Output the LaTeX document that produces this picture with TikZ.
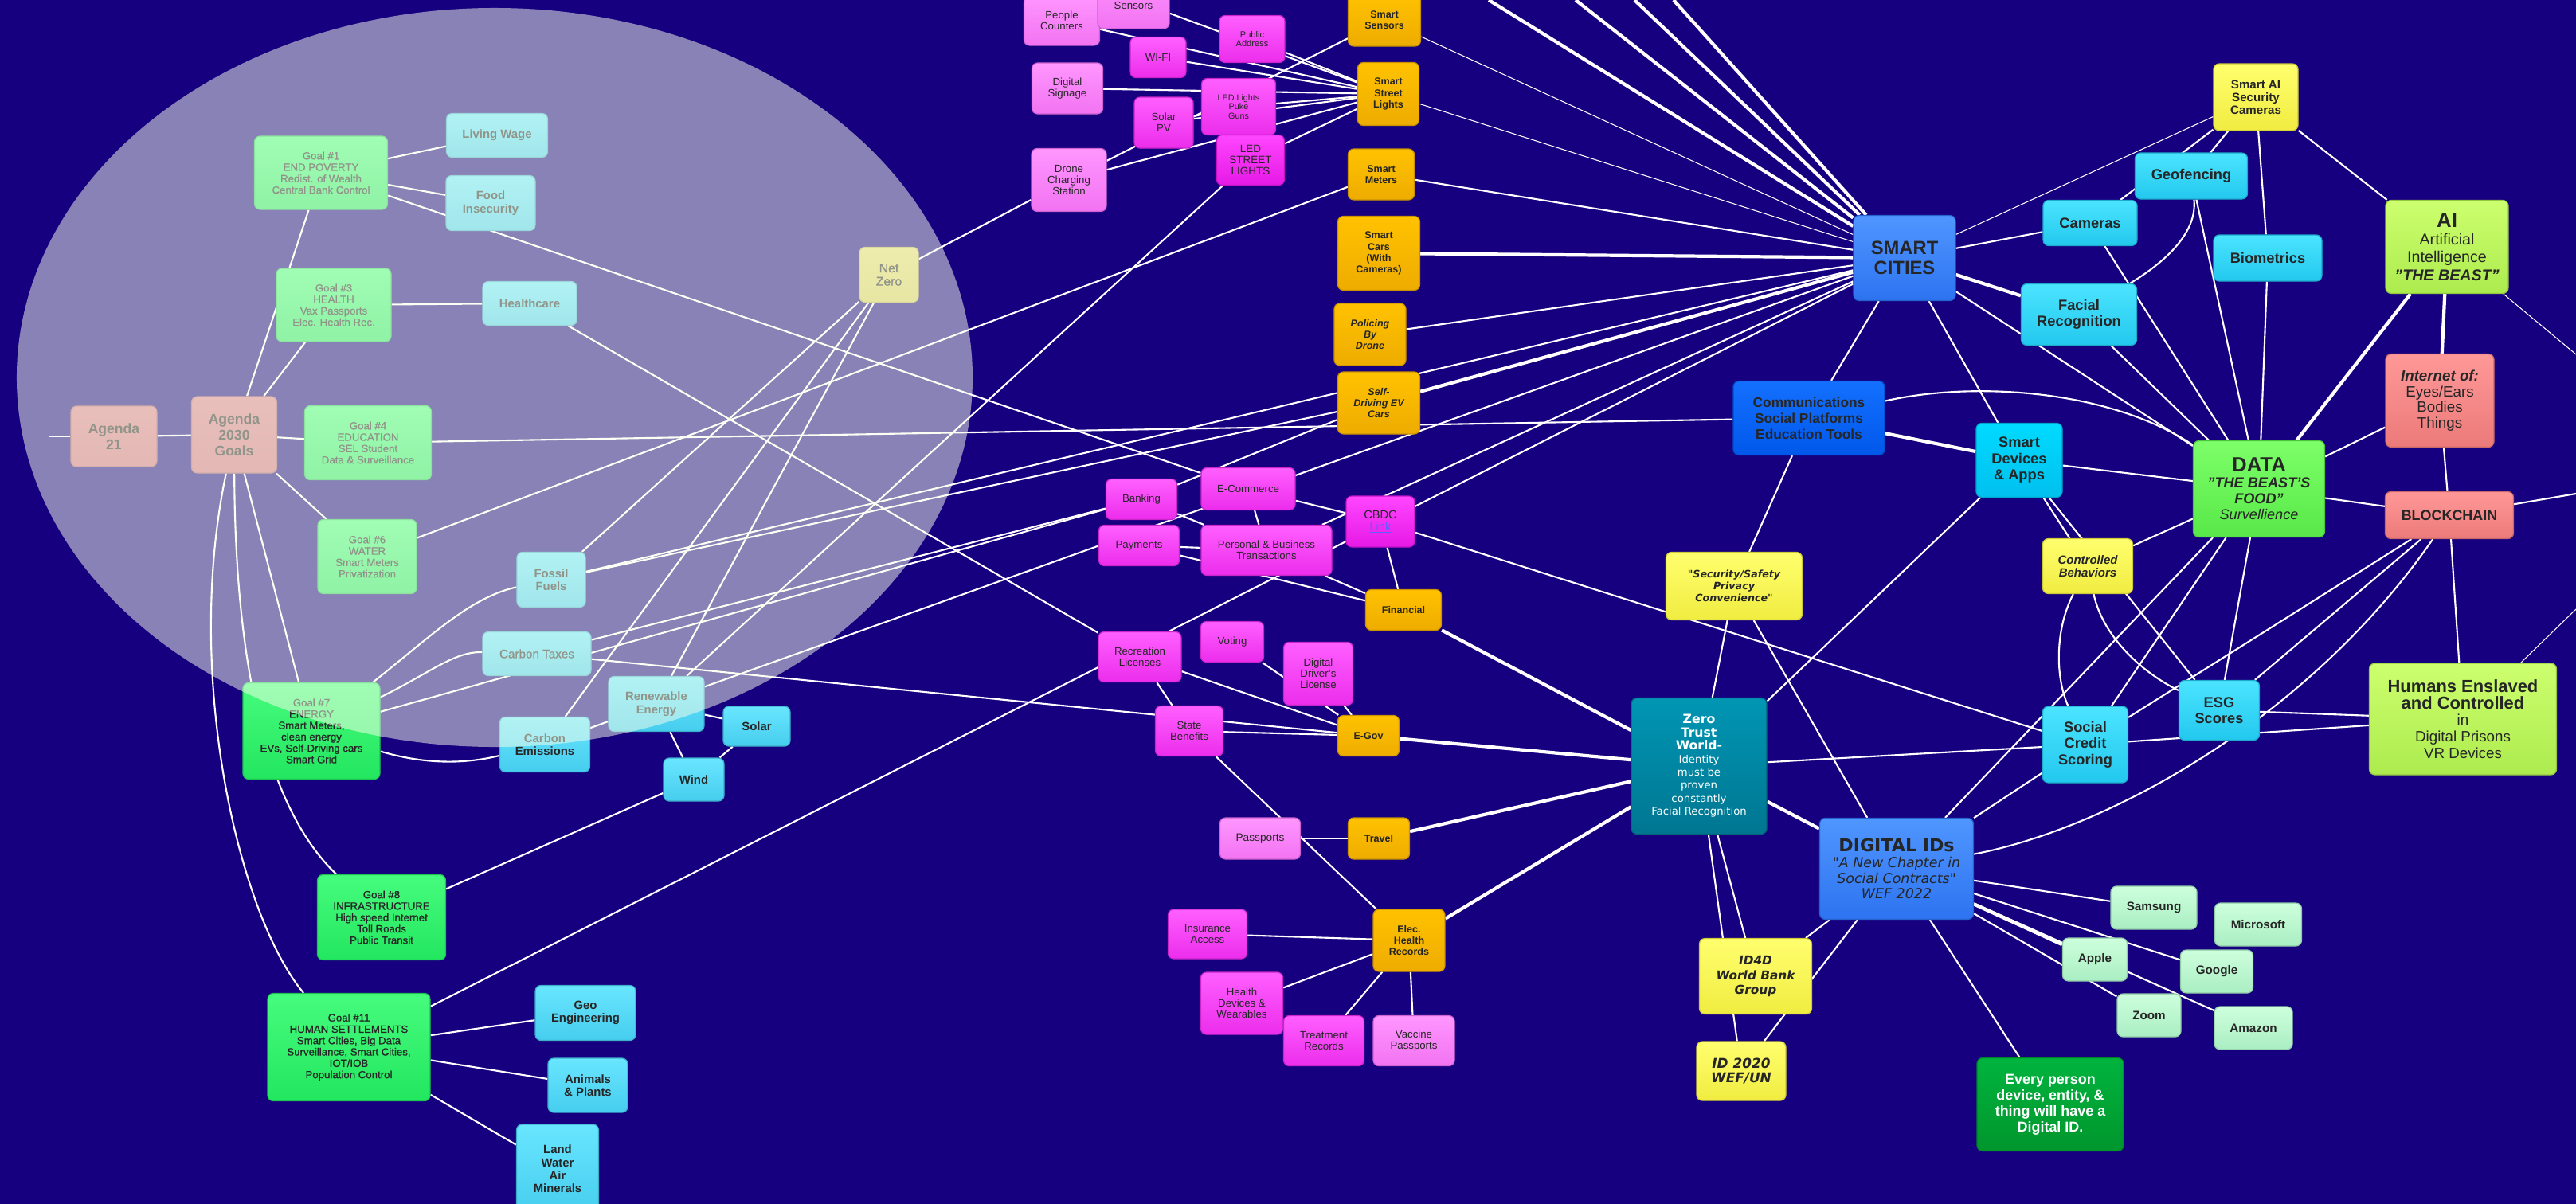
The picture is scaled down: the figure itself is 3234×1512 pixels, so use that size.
\documentclass[tikz,border=0pt]{standalone}
\usepackage{fontspec}
\setmainfont{Liberation Sans}
\newfontfamily\dvfont{DejaVu Sans}
\newfontfamily\medfont[FakeBold=0.8]{Liberation Sans}
\newcommand\fz[2]{\fontsize{#1}{#2}\selectfont}

\definecolor{bgblue}{RGB}{23,0,128}
\definecolor{magLt}{RGB}{255,150,255}\definecolor{magLb}{RGB}{242,115,242}
\definecolor{magMt}{RGB}{255,95,255}\definecolor{magMb}{RGB}{236,45,236}
\definecolor{magBt}{RGB}{255,70,255}\definecolor{magBb}{RGB}{230,25,230}
\definecolor{orgt}{RGB}{255,194,0}\definecolor{orgb}{RGB}{238,172,0}
\definecolor{grnt}{RGB}{70,252,125}\definecolor{grnb}{RGB}{35,230,95}
\definecolor{pnkt}{RGB}{218,125,140}\definecolor{pnkb}{RGB}{205,110,125}
\definecolor{cyLt}{RGB}{105,230,255}\definecolor{cyLb}{RGB}{70,205,238}
\definecolor{nzt}{RGB}{228,218,110}\definecolor{nzb}{RGB}{215,205,90}
\definecolor{cyRt}{RGB}{75,228,255}\definecolor{cyRb}{RGB}{35,200,238}
\definecolor{cyDt}{RGB}{0,218,255}\definecolor{cyDb}{RGB}{0,192,238}
\definecolor{yelt}{RGB}{255,255,110}\definecolor{yelb}{RGB}{240,236,65}
\definecolor{blSt}{RGB}{80,150,255}\definecolor{blSb}{RGB}{45,115,240}
\definecolor{blCt}{RGB}{20,112,255}\definecolor{blCb}{RGB}{0,88,235}
\definecolor{tealt}{RGB}{0,150,180}\definecolor{tealb}{RGB}{0,118,145}
\definecolor{datat}{RGB}{125,255,105}\definecolor{datab}{RGB}{88,232,72}
\definecolor{limet}{RGB}{205,255,110}\definecolor{limeb}{RGB}{172,235,78}
\definecolor{salt}{RGB}{255,152,152}\definecolor{salb}{RGB}{236,122,122}
\definecolor{dgt}{RGB}{0,180,62}\definecolor{dgb}{RGB}{0,150,45}
\definecolor{mintt}{RGB}{205,255,220}\definecolor{mintb}{RGB}{170,238,195}
\definecolor{ellfill}{RGB}{248,255,234}
\definecolor{linkblue}{RGB}{95,95,255}

\pgfdeclarelayer{bg}
\pgfdeclarelayer{fg}
\pgfsetlayers{bg,main,fg}

\tikzset{
	bx/.style={rounded corners=6pt, align=center, inner sep=1pt, line width=1pt, text=black!85},
	sz/.style 2 args={minimum width=#1*0.03cm, minimum height=#2*0.03cm},
	fillc/.style 2 args={top color=#1, bottom color=#2, draw=#2!85!black},
	magl/.style={bx, fillc={magLt}{magLb}, font=\fz{11.3}{12}},
	magm/.style={bx, fillc={magMt}{magMb}, font=\fz{11.3}{12}},
	magb/.style={bx, fillc={magBt}{magBb}, font=\fz{11.3}{12}},
	orng/.style={bx, fillc={orgt}{orgb}, font=\fz{10.7}{12}\bfseries},
	goal/.style={bx, fillc={grnt}{grnb}, font=\medfont\fz{11.3}{12.2}},
	pnk/.style={bx, fillc={pnkt}{pnkb}, font=\fz{15}{17}\bfseries},
	cyl/.style={bx, fillc={cyLt}{cyLb}, font=\fz{12.7}{14}\bfseries},
	nz/.style={bx, fillc={nzt}{nzb}, font=\medfont\fz{13.5}{14.2}},
	cyr/.style={bx, fillc={cyRt}{cyRb}, font=\fz{15.6}{17.5}\bfseries},
	yel/.style={bx, fillc={yelt}{yelb}},
	mint/.style={bx, fillc={mintt}{mintb}, font=\fz{13}{15}\bfseries},
	ln/.style={draw=white, line width=1.8pt},
	thk/.style={draw=white, line width=3.6pt},
	thn/.style={draw=white, line width=0.9pt},
}

\begin{document}
\begin{tikzpicture}[x=0.03cm,y=-0.03cm]
	%%%%% START %%%%%
	\useasboundingbox (0,0) rectangle (3234,1512);
	
	% agenda 2030 side
	\node[pnk,sz={108}{76}] (a21) at (143,548) {Agenda\\21};
	\node[pnk,sz={107}{96}] (a2030) at (294,546) {Agenda\\2030\\Goals};
	\node[goal,sz={167}{92}] (g1) at (403,217) {Goal \#1\\END POVERTY\\Redist. of Wealth\\Central Bank Control};
	\node[goal,sz={144}{92}] (g3) at (419,383) {Goal \#3\\HEALTH\\Vax Passports\\Elec. Health Rec.};
	\node[goal,sz={159}{93}] (g4) at (462,556) {Goal \#4\\EDUCATION\\SEL Student\\Data \& Surveillance};
	\node[goal,sz={124}{93}] (g6) at (461,699) {Goal \#6\\WATER\\Smart Meters\\Privatization};
	\node[goal,sz={172}{121}] (g7) at (391,918) {Goal \#7\\ENERGY\\Smart Meters,\\clean energy\\EVs, Self-Driving cars\\Smart Grid};
	\node[goal,sz={161}{107}] (g8) at (479,1152) {Goal \#8\\INFRASTRUCTURE\\High speed Internet\\Toll Roads\\Public Transit};
	\node[goal,sz={204}{135}] (g11) at (438,1315) {Goal \#11\\HUMAN SETTLEMENTS\\Smart Cities, Big Data\\Surveillance, Smart Cities,\\IOT/IOB\\Population Control};
	
	\node[cyl,sz={127}{55}] (wage) at (624,170) {Living Wage};
	\node[cyl,sz={112}{69}] (food) at (616,255) {Food\\Insecurity};
	\node[cyl,sz={118}{55}] (hcare) at (665,381) {Healthcare};
	\node[nz,sz={74}{69}] (netzero) at (1116,345) {Net\\Zero};
	\node[cyl,sz={86}{69}] (fossil) at (692,728) {Fossil\\Fuels};
	\node[cyl,sz={136}{55},font=\medfont\fz{13}{14}] (ctax) at (674,821) {Carbon Taxes};
	\node[cyl,sz={113}{69}] (cemis) at (684,935) {Carbon\\Emissions};
	\node[cyl,sz={120}{69}] (renew) at (824,884) {Renewable\\Energy};
	\node[cyl,sz={84}{50}] (solar) at (950,912) {Solar};
	\node[cyl,sz={76}{54}] (wind) at (871,979) {Wind};
	\node[cyl,sz={126}{69}] (geo) at (735,1272) {Geo\\Engineering};
	\node[cyl,sz={100}{68}] (animals) at (738,1363) {Animals\\\& Plants};
	\node[cyl,sz={103}{112}] (land) at (700,1468) {Land\\Water\\Air\\Minerals};
	
	% smart city devices
	\node[magl,sz={95}{62}] (pcount) at (1333,26) {People\\Counters};
	\node[magl,sz={90}{72}] (noise) at (1423,0) {Noise\\Sensors};
	\node[magm,sz={82}{59},font=\fz{9.5}{10}] (paddr) at (1572,49) {Public\\Address};
	\node[magm,sz={70}{51}] (wifi) at (1454,72) {WI-FI};
	\node[magl,sz={89}{64}] (signage) at (1340,111) {Digital\\Signage};
	\node[magm,sz={74}{64}] (solarpv) at (1461,154) {Solar\\PV};
	\node[magm,sz={93}{71},font=\fz{9.2}{10}] (ledpuke) at (1555,134) {LED Lights\\Puke\\Guns};
	\node[magb,sz={85}{63},font=\fz{11.5}{12.2}] (ledst) at (1570,201) {LED\\STREET\\LIGHTS};
	\node[magl,sz={94}{79}] (drone) at (1342,226) {Drone\\Charging\\Station};
	
	\node[orng,sz={91}{66}] (ssens) at (1738,25) {Smart\\Sensors};
	\node[orng,sz={77}{79}] (slights) at (1743,118) {Smart\\Street\\Lights};
	\node[orng,sz={83}{64}] (smeters) at (1734,219) {Smart\\Meters};
	\node[orng,sz={103}{93}] (scars) at (1731,318) {Smart\\Cars\\(With\\Cameras)};
	\node[orng,sz={90}{78},font=\fz{10.7}{12}\bfseries\itshape] (police) at (1720,420) {Policing\\By\\Drone};
	\node[orng,sz={103}{78},font=\fz{10.7}{12}\bfseries\itshape] (selfdrive) at (1731,506) {Self-\\Driving EV\\Cars};
	
	% money, government, health
	\node[magm,sz={89}{51}] (banking) at (1433,627) {Banking};
	\node[magm,sz={118}{53}] (ecom) at (1567,614) {E-Commerce};
	\node[magb,sz={86}{64},font=\fz{12.5}{13.5}] (cbdc) at (1733,655) {CBDC\\\textcolor{linkblue}{\underline{Link}}};
	\node[magm,sz={101}{51}] (payments) at (1430,685) {Payments};
	\node[magm,sz={164}{63}] (pbt) at (1590,691) {Personal \& Business\\Transactions};
	\node[orng,sz={95}{51}] (financial) at (1762,766) {Financial};
	\node[magm,sz={79}{51}] (voting) at (1547,806) {Voting};
	\node[magm,sz={104}{63}] (recreation) at (1431,825) {Recreation\\Licenses};
	\node[magm,sz={87}{79}] (ddl) at (1655,846) {Digital\\Driver's\\License};
	\node[magm,sz={85}{63}] (benefits) at (1493,918) {State\\Benefits};
	\node[orng,sz={77}{51}] (egov) at (1718,924) {E-Gov};
	\node[magl,sz={101}{52},font=\fz{11.7}{12.5}] (passports) at (1582,1053) {Passports};
	\node[orng,sz={77}{52}] (travel) at (1731,1053) {Travel};
	\node[magm,sz={99}{62}] (insurance) at (1516,1173) {Insurance\\Access};
	\node[orng,sz={90}{78}] (ehr) at (1769,1181) {Elec.\\Health\\Records};
	\node[magm,sz={103}{78}] (wearables) at (1559,1260) {Health\\Devices \&\\Wearables};
	\node[magm,sz={101}{63}] (treatment) at (1662,1307) {Treatment\\Records};
	\node[magl,sz={102}{63}] (vaccine) at (1775,1307) {Vaccine\\Passports};
	
	% smart cities, data, ids
	\node[bx,fillc={blSt}{blSb},sz={128}{107},font=\fz{20.3}{21}\bfseries] (smartcities) at (2391,324) {SMART\\CITIES};
	\node[bx,fillc={blCt}{blCb},sz={190}{93},font=\fz{14.8}{17}\bfseries] (comms) at (2271,525) {Communications\\Social Platforms\\Education Tools};
	\node[yel,sz={106}{84},font=\fz{12.9}{13.7}\bfseries] (smartai) at (2832,122) {Smart AI\\Security\\Cameras};
	\node[cyr,sz={141}{58}] (geofence) at (2751,221) {Geofencing};
	\node[cyr,sz={118}{57}] (cameras) at (2624,280) {Cameras};
	\node[cyr,sz={136}{58}] (biometrics) at (2847,324) {Biometrics};
	\node[cyr,sz={145}{77}] (facial) at (2610,395) {Facial\\Recognition};
	\node[bx,fillc={limet}{limeb},sz={154}{117},font=\fz{16.8}{19}] (ai) at (3072,310) {{\bfseries\fz{22}{22}AI}\\Artificial\\Intelligence\\\textbf{\textit{"THE BEAST"}}};
	\node[bx,fillc={salt}{salb},sz={136}{117},font=\fz{16}{16.7}] (iot) at (3063,503) {\textbf{\textit{Internet of:}}\\Eyes/Ears\\Bodies\\Things};
	\node[bx,fillc={datat}{datab},sz={165}{121},font=\fz{15.5}{17}] (data) at (2836,614) {{\bfseries\fz{22}{22}DATA}\\\textbf{\textit{"THE BEAST'S}}\\\textbf{\textit{FOOD"}}\\\textit{Survellience}};
	\node[cyr,sz={108}{93},fillc={cyDt}{cyDb}] (devices) at (2535,578) {Smart\\Devices\\\& Apps};
	\node[bx,fillc={salt}{salb},sz={161}{59},font=\fz{15.3}{17}\bfseries] (blockchain) at (3075,647) {BLOCKCHAIN};
	\node[yel,sz={113}{69},font=\fz{12.8}{13.4}\bfseries\itshape] (controlled) at (2621,711) {Controlled\\Behaviors};
	\node[cyr,sz={101}{75}] (esg) at (2786,892) {ESG\\Scores};
	\node[cyr,sz={107}{96}] (social) at (2618,935) {Social\\Credit\\Scoring};
	\node[bx,fillc={limet}{limeb},sz={235}{140},font=\fz{16}{17.6}] (humans) at (3092,903) {\textbf{\fz{18.7}{19.5}Humans Enslaved}\\\textbf{\fz{18.7}{19.5}and Controlled}\\in\\Digital Prisons\\VR Devices};
	\node[yel,sz={171}{85},font=\dvfont\fz{10.8}{13}\bfseries\itshape] (security) at (2177,736) {"Security/Safety\\Privacy\\Convenience"};
	\node[bx,fillc={tealt}{tealb},sz={170}{171},text=white,font=\dvfont\fz{11.3}{14}] (zerotrust) at (2133,962) {\textbf{\fz{13.4}{14}Zero}\\\textbf{\fz{13.4}{14}Trust}\\\textbf{\fz{13.4}{14}World-}\\Identity\\must be\\proven\\constantly\\Facial Recognition};
	\node[bx,fillc={blSt}{blSb},sz={193}{127},font=\dvfont\fz{14.9}{17}] (digitalids) at (2381,1091) {\textbf{\fz{18.9}{20}DIGITAL IDs}\\\textit{"A New Chapter in}\\\textit{Social Contracts"}\\\textit{WEF 2022}};
	\node[yel,sz={141}{95},font=\dvfont\fz{13.1}{16}\bfseries\itshape] (id4d) at (2204,1226) {ID4D\\World Bank\\Group};
	\node[yel,sz={112}{74},font=\dvfont\fz{14.4}{16}\bfseries\itshape] (id2020) at (2186,1345) {ID 2020\\WEF/UN};
	\node[bx,fillc={dgt}{dgb},sz={184}{117},text=white,font=\fz{15.3}{17}\bfseries] (everyone) at (2574,1387) {Every person\\device, entity, \&\\thing will have a\\Digital ID.};
	\node[mint,sz={108}{54}] (samsung) at (2704,1140) {Samsung};
	\node[mint,sz={109}{54}] (microsoft) at (2835,1161) {Microsoft};
	\node[mint,sz={81}{54}] (apple) at (2630,1205) {Apple};
	\node[mint,sz={91}{54}] (google) at (2783,1220) {Google};
	\node[mint,sz={80}{54}] (zoom) at (2698,1275) {Zoom};
	\node[mint,sz={98}{54}] (amazon) at (2829,1291) {Amazon};
	
	% loose ends at the border
	\coordinate (a21w) at (61,548);
	\coordinate (top1) at (1869,0);
	\coordinate (top2) at (1978,0);
	\coordinate (top3) at (2052,0);
	\coordinate (top4) at (2101,0);
	\coordinate (aie) at (3234,445);
	\coordinate (blke) at (3234,620);
	\coordinate (hume) at (3234,765);
	
	\begin{pgfonlayer}{bg}
		\fill[bgblue] (0,0) rectangle (3234,1512);
		
		\draw[ln] (a21w) -- (a21);
		\draw[ln] (a21) -- (a2030);
		\draw[ln] (a2030) -- (g1);
		\draw[ln] (a2030) -- (g3);
		\draw[ln] (a2030) -- (g4);
		\draw[ln] (a2030) -- (g6);
		\draw[ln] (a2030) -- (g7);
		\draw[ln] (a2030) .. controls (295,820) and (330,1010) .. (g8);
		\draw[ln] (a2030) .. controls (230,850) and (300,1150) .. (g11);
		\draw[ln] (g1) -- (wage);
		\draw[ln] (g1) -- (food);
		\draw[ln] (g1) -- (ecom);
		\draw[ln] (g3) -- (hcare);
		\draw[ln] (hcare) -- (recreation);
		\draw[ln] (g4) -- (comms);
		\draw[ln] (g6) -- (smeters);
		\draw[ln] (g7) .. controls (540,800) and (590,750) .. (fossil);
		\draw[ln] (g7) .. controls (540,845) and (570,818) .. (ctax);
		\draw[ln] (g7) -- (banking);
		\draw[ln] (g7) .. controls (540,962) and (590,958) .. (cemis);
		\draw[ln] (netzero) -- (drone);
		\draw[ln] (netzero) -- (fossil);
		\draw[ln] (netzero) -- (cemis);
		\draw[ln] (netzero) -- (renew);
		\draw[ln] (fossil) -- (selfdrive);
		\draw[ln] (fossil) -- (smartcities);
		\draw[ln] (ctax) -- (banking);
		\draw[ln] (ctax) -- (egov);
		\draw[ln] (cemis) -- (renew);
		\draw[ln] (renew) -- (solar);
		\draw[ln] (renew) -- (wind);
		\draw[ln] (wind) -- (solar);
		\draw[ln] (wind) -- (g8);
		\draw[ln] (renew) -- (smartcities);
		\draw[ln] (ledst) -- (renew);
		\draw[ln] (g11) -- (geo);
		\draw[ln] (g11) -- (animals);
		\draw[ln] (g11) -- (land);
		\draw[ln] (g11) -- (smartcities);
		
		\foreach \dev in {pcount,noise,paddr,wifi,signage,solarpv,ledpuke,drone,ledst}
			\draw[ln] (\dev) -- (slights);
		\draw[ln] (solarpv) -- (ledpuke);
		\draw[ln] (drone) -- (ssens);
		\draw[thn] (ssens) -- (smartcities);
		\draw[thn] (slights) -- (smartcities);
		\draw[ln] (smeters) -- (smartcities);
		\draw[thk] (scars) -- (smartcities);
		\draw[ln] (police) -- (smartcities);
		\draw[thk] (selfdrive) -- (smartcities);
		\foreach \t in {top1,top2,top3,top4}
			\draw[thk] (\t) -- (smartcities);
		
		\draw[ln] (banking) -- (selfdrive);
		\draw[ln] (banking) -- (pbt);
		\draw[ln] (payments) -- (pbt);
		\draw[ln] (payments) -- (financial);
		\draw[ln] (ecom) -- (pbt);
		\draw[ln] (ecom) -- (cbdc);
		\draw[ln] (cbdc) -- (social);
		\draw[ln] (cbdc) -- (financial);
		\draw[ln] (pbt) -- (financial);
		\draw[ln] (pbt) -- (smartcities);
		\draw[thk] (financial) -- (zerotrust);
		\draw[ln] (voting) -- (egov);
		\draw[ln] (ddl) -- (egov);
		\draw[ln] (recreation) -- (egov);
		\draw[ln] (recreation) -- (benefits);
		\draw[ln] (benefits) -- (egov);
		\draw[ln] (benefits) -- (ehr);
		\draw[thk] (egov) -- (zerotrust);
		\draw[ln] (passports) -- (travel);
		\draw[thk] (travel) -- (zerotrust);
		\draw[thk] (ehr) -- (zerotrust);
		\foreach \rec in {insurance,wearables,treatment,vaccine}
			\draw[ln] (ehr) -- (\rec);
		
		\draw[thn] (smartcities) -- (smartai);
		\draw[ln] (smartcities) -- (cameras);
		\draw[thk] (smartcities) -- (facial);
		\draw[ln] (smartcities) -- (data);
		\draw[ln] (smartcities) -- (devices);
		\draw[ln] (smartcities) -- (comms);
		\draw[ln] (cameras) -- (smartai);
		\draw[ln] (geofence) -- (smartai);
		\draw[ln] (smartai) -- (biometrics);
		\draw[ln] (smartai) -- (ai);
		\draw[ln] (biometrics) -- (data);
		\draw[ln] (geofence) -- (data);
		\draw[ln] (cameras) -- (data);
		\draw[ln] (facial) -- (data);
		\draw[ln] (geofence) .. controls (2760,300) and (2700,340) .. (facial);
		\draw[thk] (ai) -- (data);
		\draw[thk] (ai) -- (iot);
		\draw[thn] (ai) -- (aie);
		\draw[ln] (iot) -- (data);
		\draw[ln] (iot) -- (blockchain);
		\draw[ln] (comms) .. controls (2480,478) and (2650,490) .. (data);
		\draw[thk] (comms) -- (devices);
		\draw[ln] (devices) -- (data);
		\draw[ln] (devices) -- (controlled);
		\draw[ln] (devices) -- (esg);
		\draw[ln] (data) -- (controlled);
		\draw[ln] (controlled) .. controls (2580,790) and (2580,850) .. (social);
		\draw[ln] (controlled) .. controls (2640,800) and (2690,845) .. (esg);
		\draw[ln] (data) -- (social);
		\draw[ln] (data) -- (esg);
		\draw[ln] (data) -- (blockchain);
		\draw[ln] (blockchain) -- (esg);
		\draw[ln] (blockchain) -- (social);
		\draw[ln] (digitalids) .. controls (2650,1040) and (2900,900) .. (blockchain);
		\draw[ln] (blockchain) -- (humans);
		\draw[ln] (blockchain) -- (blke);
		\draw[thn] (humans) -- (hume);
		\draw[ln] (esg) -- (humans);
		\draw[ln] (social) -- (humans);
		
		\draw[ln] (zerotrust) -- (devices);
		\draw[ln] (security) -- (zerotrust);
		\draw[ln] (comms) -- (security);
		\draw[ln] (security) -- (digitalids);
		\draw[ln] (zerotrust) -- (social);
		\draw[thk] (zerotrust) -- (digitalids);
		\draw[ln] (zerotrust) -- (id4d);
		\draw[ln] (zerotrust) -- (id2020);
		\draw[ln] (digitalids) -- (id4d);
		\draw[ln] (digitalids) -- (id2020);
		\draw[ln] (digitalids) -- (everyone);
		\draw[ln] (digitalids) -- (social);
		\draw[ln] (digitalids) -- (data);
		\draw[ln] (digitalids) -- (samsung);
		\draw[ln] (digitalids) -- (google);
		\draw[thk] (digitalids) -- (apple);
		\draw[ln] (digitalids) -- (amazon);
		\draw[ln] (digitalids) -- (zoom);
	\end{pgfonlayer}
	
	% haze over the agenda side
	\begin{pgfonlayer}{fg}
		\fill[ellfill, opacity=0.51] (621,474) ellipse [x radius=18cm, y radius=13.92cm];
	\end{pgfonlayer}
	
	%%%%% END %%%%%
\end{tikzpicture}
\end{document}
